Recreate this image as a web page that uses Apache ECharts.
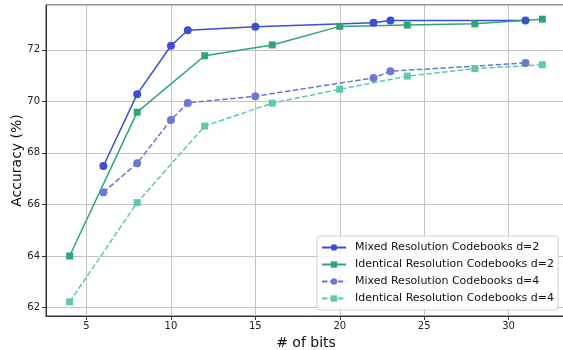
<!DOCTYPE html>
<html>
<head>
<meta charset="utf-8">
<script src="https://cdn.jsdelivr.net/npm/echarts@6/dist/echarts.min.js"></script>
<style>html,body{margin:0;padding:0;background:#fff}#c{width:563px;height:350px}</style>
</head>
<body>
<div id="c"></div>
<script>
const seriesNames = [
  'Mixed Resolution Codebooks d=2',
  'Identical Resolution Codebooks d=2',
  'Mixed Resolution Codebooks d=4',
  'Identical Resolution Codebooks d=4'
];
const mixedBits = [6, 8, 10, 11, 15, 22, 23, 31];
const identicalBits = [4, 8, 12, 16, 20, 24, 28, 32];
const mixedD2 = [67.49, 70.28, 72.16, 72.76, 72.9, 73.05, 73.14, 73.14];
const identicalD2 = [64.0, 69.58, 71.77, 72.19, 72.91, 72.96, 73.01, 73.19];
const mixedD4 = [66.47, 67.6, 69.28, 69.94, 70.2, 70.91, 71.17, 71.49];
const identicalD4 = [62.22, 66.07, 69.04, 69.93, 70.47, 70.98, 71.27, 71.42];
const xRange = [2.6, 33.4];
const yRange = [61.67, 73.74];

const colors = ['#3b4fcf', '#2ca57b', '#6b79d1', '#5fc8b1'];
const font = 'DejaVu Sans';

function pairs(xs, ys) { return xs.map((x, i) => [x, ys[i]]); }
function mk(name, xs, ys, color, symbol, size, dashed) {
  return {
    name, type: 'line', data: pairs(xs, ys),
    symbol, symbolSize: size, showSymbol: true,
    itemStyle: { color },
    lineStyle: { color, width: 1.5, type: dashed ? [5.5, 2.4] : 'solid' },
    emphasis: { disabled: true },
    animation: false, z: 3
  };
}

const chart = echarts.init(document.getElementById('c'), null, { renderer: 'canvas' });
chart.setOption({
  animation: false,
  textStyle: { fontFamily: font },
  grid: { left: 46, right: -3, top: 5, bottom: 34, show: true, borderColor: '#333', borderWidth: 1, containLabel: false, outerBoundsMode: 'none' },
  xAxis: {
    type: 'value', min: xRange[0], max: xRange[1], splitNumber: 6,
    name: '# of bits', nameLocation: 'middle', nameGap: 17,
    nameTextStyle: { fontSize: 14, color: '#111', fontFamily: font },
    axisLine: { show: true, onZero: false, lineStyle: { color: '#333', width: 1 } },
    axisTick: { show: true, length: 4, lineStyle: { color: '#333' } },
    axisLabel: { fontSize: 10, color: '#222', margin: 5, showMinLabel: false, showMaxLabel: false, fontFamily: font },
    splitLine: { show: true, lineStyle: { color: '#c4c4c4', width: 1 } }
  },
  yAxis: {
    type: 'value', min: yRange[0], max: yRange[1], splitNumber: 6,
    name: 'Accuracy (%)', nameLocation: 'middle', nameGap: 22, nameRotate: 90, nameMoveOverlap: false,
    nameTextStyle: { fontSize: 14, color: '#111', fontFamily: font },
    axisLine: { show: true, onZero: false, lineStyle: { color: '#333', width: 1 } },
    axisTick: { show: true, length: 4, lineStyle: { color: '#333' } },
    axisLabel: { fontSize: 10, color: '#222', margin: 6, showMinLabel: false, showMaxLabel: false, fontFamily: font },
    splitLine: { show: true, lineStyle: { color: '#c4c4c4', width: 1 } }
  },
  legend: {
    orient: 'vertical', left: 317, top: 236,
    padding: [6, 4, 6, 4], itemGap: 6, itemWidth: 24, itemHeight: 8,
    backgroundColor: 'rgba(255,255,255,0.85)', borderColor: '#d0d0d0', borderWidth: 1, borderRadius: 3,
    textStyle: { fontSize: 11, color: '#111', fontFamily: font, padding: [0, 0, 0, 4] },
    data: seriesNames
  },
  series: [
    mk(seriesNames[0], mixedBits, mixedD2, colors[0], 'circle', 8, false),
    mk(seriesNames[1], identicalBits, identicalD2, colors[1], 'rect', 7, false),
    mk(seriesNames[2], mixedBits, mixedD4, colors[2], 'circle', 8, true),
    mk(seriesNames[3], identicalBits, identicalD4, colors[3], 'rect', 7, true)
  ]
});
</script>
</body>
</html>
